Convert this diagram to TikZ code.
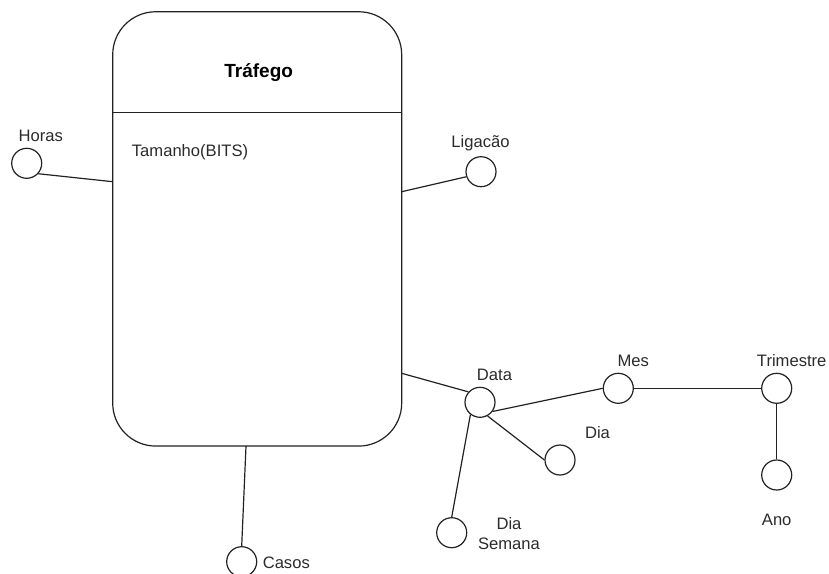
\documentclass[tikz,border=0pt]{standalone}
\usepackage{fontspec}
\setmainfont{Liberation Sans}
\definecolor{ink}{HTML}{222222}
\definecolor{txt}{HTML}{2B2B2B}
\begin{document}
\begin{tikzpicture}[x=1pt,y=-1pt,
  attr/.style={circle,draw=ink,line width=1.2pt,fill=white,minimum size=30pt,inner sep=0pt},
  link/.style={draw=ink,line width=1.2pt},
  lbl/.style={anchor=base,inner sep=0pt,text=txt,font=\fontsize{16.6}{20}\selectfont},
  entity/.style={draw=ink,line width=1.2pt,rectangle,rounded corners=43pt,
    minimum width=289pt,minimum height=434.3pt,inner sep=0pt}]
\useasboundingbox (0,0) rectangle (829,573);

% entity box with header separator
\node[entity] (trafego) at (257.2,228.9) {};
\draw[link] (112.7,112.7) coordinate (sepL) -- (401.7,112.7) coordinate (sepR);
\node[anchor=base,inner sep=0pt,text=black,font=\fontsize{19}{22}\selectfont\bfseries] (title) at (258.7,77.3) {Tráfego};
\node[lbl,anchor=base west] (tam) at (131.7,156) {Tamanho(BITS)};

% attachment points on the box border
\coordinate (pH) at (112.7,181.7);
\coordinate (pL) at (401.7,191.7);
\coordinate (pD) at (401.7,373.3);
\coordinate (pC) at (246,446);

% attribute circles
\node[attr] (horas) at (26.7,163.3) {};
\node[attr] (lig) at (481,171.7) {};
\node[attr] (data) at (480,402.3) {};
\node[attr] (dia) at (560,460) {};
\node[attr] (diasem) at (451.7,532.7) {};
\node[attr] (mes) at (618.3,388.3) {};
\node[attr] (trim) at (776.7,388.3) {};
\node[attr] (ano) at (776.7,475) {};
\node[attr] (casos) at (241.7,561.7) {};

% connectors
\draw[link] (horas.-42) -- (pH);
\draw[link] (pL) -- (lig.-161);
\draw[link] (pD) -- (data.138);
\draw[link] (data.-36) -- (mes.west);
\draw[link] (data.-61) -- (dia.west);
\draw[link] (data.-128) -- (diasem.north);
\draw[link] (mes.east) -- (trim.west);
\draw[link] (trim.south) -- (ano.north);
\draw[link] (pC) -- (casos.north);

% labels
\node[lbl] (tHoras) at (40.8,141.7) {Horas};
\node[lbl] (tLig) at (480.5,147) {Ligacão};
\node[lbl] (tData) at (494.5,380) {Data};
\node[lbl] (tDia) at (597.5,438.3) {Dia};
\node[lbl] (tDs1) at (509,529.3) {Dia};
\node[lbl] (tDs2) at (509,549.3) {Semana};
\node[lbl] (tMes) at (633.3,366) {Mes};
\node[lbl] (tTrim) at (791.7,366) {Trimestre};
\node[lbl] (tAno) at (776.7,525) {Ano};
\node[lbl] (tCasos) at (286.3,568.3) {Casos};
\end{tikzpicture}
\end{document}
